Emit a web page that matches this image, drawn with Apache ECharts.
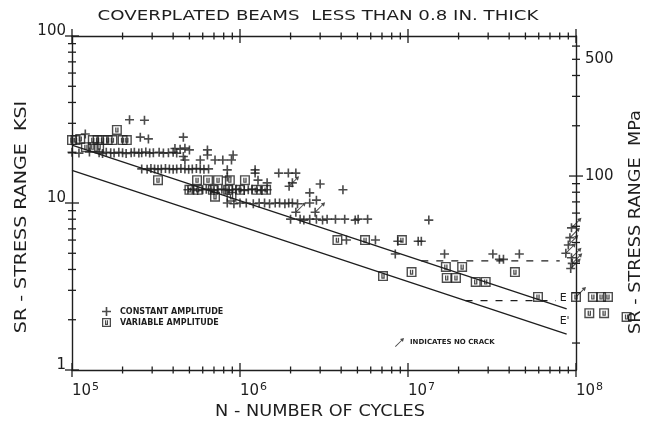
<!DOCTYPE html>
<html>
<head>
<meta charset="utf-8">
<script src="https://cdn.jsdelivr.net/npm/echarts/dist/echarts.min.js"></script>
<style>
  html, body { margin: 0; padding: 0; background: #fff; }
  #chart { width: 646px; height: 426px; }
</style>
</head>
<body>
<div id="chart"></div>
<script>
// ---- Test results: [cycles N, stress range Sr in ksi] ----
const constantAmplitude = [
  [2.2e5, 31.5], [2.7e5, 31.3], [1.2e5, 25.9], [2.55e5, 24.8], [2.85e5, 24.2], [4.6e5, 24.8],
  [1.0e5, 20.1], [1.1e5, 19.9], [1.27e5, 20.2], [1.45e5, 20.0], [1.52e5, 19.8], [1.6e5, 20.1],
  [1.7e5, 20.0], [1.78e5, 19.9], [1.9e5, 20.1], [2.0e5, 20.0], [2.1e5, 19.8], [2.25e5, 20.0],
  [2.35e5, 20.1], [2.5e5, 19.9], [2.6e5, 20.0], [2.75e5, 20.2], [2.9e5, 19.9], [3.05e5, 20.0],
  [3.3e5, 20.1], [3.5e5, 19.9], [3.75e5, 20.0], [4.0e5, 20.1], [4.2e5, 19.9],
  [4.1e5, 21.2], [4.4e5, 21.0], [4.7e5, 21.3], [5.0e5, 20.8], [4.6e5, 19.0], [4.7e5, 18.1],
  [5.8e5, 18.1], [6.4e5, 20.8], [6.4e5, 19.4], [7.1e5, 18.1], [7.9e5, 18.1], [9.1e5, 19.4], [8.9e5, 18.1],
  [2.6e5, 16.0], [2.8e5, 15.9], [2.95e5, 16.1], [3.1e5, 16.0], [3.25e5, 15.9], [3.4e5, 16.0],
  [3.6e5, 16.1], [3.8e5, 16.0], [4.0e5, 15.9], [4.2e5, 16.0], [4.45e5, 16.1], [4.7e5, 16.0],
  [4.95e5, 15.9], [5.2e5, 16.0], [5.5e5, 16.1], [5.8e5, 16.0], [6.1e5, 15.9], [6.5e5, 16.0],
  [8.4e5, 15.8], [8.4e5, 14.3], [1.23e6, 15.8], [1.23e6, 15.1], [1.7e6, 15.1], [1.94e6, 15.1], [2.15e6, 15.1],
  [1.28e6, 13.7], [1.45e6, 13.2], [2.05e6, 13.2], [3.0e6, 13.0], [4.1e6, 12.0], [2.6e6, 11.5], [2.85e6, 10.4],
  [4.9e5, 12.0], [5.2e5, 12.1], [5.6e5, 11.9], [6.0e5, 12.0], [6.3e5, 12.1], [6.7e5, 12.0],
  [7.0e5, 11.9], [7.4e5, 12.0], [7.8e5, 12.1], [8.2e5, 12.0], [8.6e5, 11.9], [9.0e5, 12.0],
  [9.5e5, 12.1], [1.0e6, 12.0], [1.06e6, 11.9], [1.12e6, 12.0], [1.18e6, 12.1], [1.26e6, 12.0],
  [1.35e6, 11.9], [1.45e6, 12.0],
  [8.4e5, 10.0], [9.2e5, 9.9], [1.0e6, 10.0], [1.09e6, 10.0], [1.2e6, 9.9], [1.3e6, 10.0],
  [1.4e6, 10.0], [1.5e6, 9.9], [1.62e6, 10.0], [1.72e6, 10.0], [1.85e6, 9.9], [1.95e6, 10.0],
  [2.05e6, 10.0], [2.2e6, 9.9], [2.6e6, 10.0],
  [2.0e6, 8.0], [2.28e6, 8.0], [2.4e6, 7.9], [2.6e6, 8.0], [2.85e6, 8.0], [3.1e6, 7.9],
  [3.3e6, 8.0], [3.7e6, 8.0], [4.2e6, 8.0], [4.85e6, 7.9], [5.05e6, 8.0], [5.75e6, 8.0],
  [4.3e6, 6.0], [6.4e6, 6.0], [8.7e6, 5.9], [1.15e7, 5.9], [1.2e7, 5.9], [8.4e6, 4.95],
  [1.33e7, 7.9], [1.65e7, 4.95], [3.2e7, 4.95], [3.5e7, 4.6], [3.7e7, 4.6], [4.6e7, 4.95]
];

// constant amplitude specimens without cracks (run-outs)
const constantRunouts = [
  [1.96e6, 12.6], [2.15e6, 8.8], [2.8e6, 8.8],
  [9.4e7, 7.1], [9.2e7, 6.2], [9.0e7, 5.6], [8.7e7, 5.0], [9.4e7, 4.7], [9.5e7, 4.35], [9.3e7, 4.05]
];

const variableAmplitude = [
  [1.85e5, 27.4],
  [1.0e5, 23.8], [1.05e5, 23.8], [1.12e5, 24.2], [1.33e5, 23.8], [1.42e5, 23.8], [1.52e5, 23.8],
  [1.63e5, 23.8], [1.74e5, 23.8], [2.0e5, 23.8], [2.12e5, 23.8],
  [1.21e5, 21.6], [1.33e5, 21.6], [1.45e5, 21.6],
  [3.25e5, 13.7], [5.55e5, 13.7], [6.45e5, 13.7], [7.4e5, 13.7], [8.7e5, 13.7], [1.07e6, 13.7],
  [5.0e5, 12.0], [5.6e5, 12.0], [6.9e5, 12.0], [8.5e5, 12.0], [1.0e6, 12.0], [1.25e6, 12.0], [1.43e6, 12.0],
  [7.1e5, 10.9], [8.9e5, 10.9],
  [3.8e6, 6.0], [5.55e6, 6.0], [9.2e6, 6.0],
  [7.1e6, 3.65], [1.05e7, 3.86], [1.68e7, 4.14], [2.1e7, 4.14], [1.7e7, 3.56], [1.93e7, 3.56],
  [2.53e7, 3.37], [2.9e7, 3.37], [4.33e7, 3.86], [5.94e7, 2.74],
  [1.26e8, 2.74], [1.41e8, 2.74], [1.55e8, 2.74], [1.2e8, 2.19], [1.47e8, 2.19], [2.0e8, 2.08]
];

const variableRunouts = [
  [1.0e8, 2.74]
];

// design S-N lines and constant amplitude fatigue limits
const categoryE = [[1e5, 22.2], [8.8e7, 2.32]];
const categoryEPrime = [[1e5, 15.7], [8.8e7, 1.64]];
const limitE = [[1.2e7, 4.5], [8.0e7, 4.5]];
const limitEPrime = [[2.2e7, 2.6], [7.6e7, 2.6]];

// ---- Axis ticks ----
const xMajorTicks = [1e5, 1e6, 1e7, 1e8];
const xMinorTicks = [2e5, 3e5, 4e5, 5e5, 6e5, 7e5, 8e5, 9e5,
                     2e6, 3e6, 4e6, 5e6, 6e6, 7e6, 8e6, 9e6,
                     2e7, 3e7, 4e7, 5e7, 6e7, 7e7, 8e7, 9e7];
const ksiMajorTicks = [1, 10, 100];
const ksiMinorTicks = [2, 3, 4, 5, 6, 7, 8, 9, 20, 30, 40, 50, 60, 70, 80, 90];
const mpaMajorTicks = [100];
const mpaMinorTicks = [10, 20, 30, 40, 50, 60, 70, 80, 90, 200, 300, 400, 500, 600];
const mpaTickLabels = [100, 500];

const KSI_TO_MPA = 6.894757;
const INK = '#1e1e1e';
const FONT = '"DejaVu Sans", "Liberation Sans", sans-serif';

const PLUS = 'path://M4.1,0H5.9V10H4.1ZM0,4.1H10V5.9H0Z';
const BOX = 'path://M0,0H10V10H0ZM1.4,1.4V8.6H8.6V1.4ZM3.3,2.6H4.6V6.5H5.4V2.6H6.7V7.7H3.3Z';
const ARROW = 'path://M0,9.3L6.9,2.4L5.6,1.2L10,0L8.8,4.4L7.6,3.1L0.7,10Z';

// tick records: [x, y, direction (0 = vertical mark, 1 = horizontal mark), half length]
const frameTicks = [];
xMajorTicks.forEach(v => { frameTicks.push([v, 1, 0, 7]); frameTicks.push([v, 100, 0, 7]); });
xMinorTicks.forEach(v => { frameTicks.push([v, 1, 0, 3.5]); frameTicks.push([v, 100, 0, 3.5]); });
ksiMajorTicks.forEach(v => frameTicks.push([1e5, v, 1, 7]));
ksiMinorTicks.forEach(v => frameTicks.push([1e5, v, 1, 4]));
const mpaTicks = mpaMajorTicks.map(v => [1e8, v, 1, 7])
  .concat(mpaMinorTicks.map(v => [1e8, v, 1, 4]));

function renderTick(params, api) {
  const p = api.coord([api.value(0), api.value(1)]);
  const dir = api.value(2), h = api.value(3);
  const shape = dir === 0
    ? { x1: p[0], y1: p[1] - h, x2: p[0], y2: p[1] + h }
    : { x1: p[0] - h, y1: p[1], x2: p[0] + h, y2: p[1] };
  return { type: 'line', shape: shape, style: { stroke: INK, lineWidth: 1.3 } };
}

const chart = echarts.init(document.getElementById('chart'), null, { renderer: 'canvas' });

const axisLine = { show: true, onZero: false, lineStyle: { color: INK, width: 1.4 } };

chart.setOption({
  animation: false,
  backgroundColor: '#ffffff',
  grid: { left: 72, right: 70, top: 36, bottom: 56 },
  xAxis: [
    {
      type: 'log', logBase: 10, min: 1e5, max: 1e8, position: 'bottom',
      axisLine: axisLine, axisTick: { show: false }, splitLine: { show: false },
      axisLabel: {
        align: 'left', margin: 12,
        formatter: v => '{b|10}{e|' + Math.round(Math.log10(v)) + '}',
        rich: {
          b: { fontSize: 15, fontFamily: FONT, color: INK },
          e: { fontSize: 11, fontFamily: FONT, color: INK, padding: [0, 0, 8, 1] }
        }
      }
    },
    {
      type: 'log', logBase: 10, min: 1e5, max: 1e8, position: 'top',
      axisLine: axisLine, axisTick: { show: false }, splitLine: { show: false },
      axisLabel: { show: false }
    }
  ],
  yAxis: [
    {
      type: 'log', logBase: 10, min: 1, max: 100, position: 'left',
      axisLine: axisLine, axisTick: { show: false }, splitLine: { show: false },
      axisLabel: { margin: 6, verticalAlign: 'bottom', lineHeight: 9, fontSize: 15, fontFamily: FONT, color: INK }
    },
    {
      type: 'log', logBase: 10, min: KSI_TO_MPA, max: 100 * KSI_TO_MPA, position: 'right',
      axisLine: axisLine, axisTick: { show: false }, splitLine: { show: false },
      axisLabel: { show: false }
    }
  ],
  legend: [
    {
      orient: 'vertical', left: 102, top: 307, padding: 0, itemGap: 2,
      itemWidth: 9, itemHeight: 9, selectedMode: false,
      data: [
        { name: 'CONSTANT AMPLITUDE', icon: PLUS },
        { name: 'VARIABLE AMPLITUDE', icon: BOX }
      ],
      textStyle: { fontSize: 8, fontWeight: 'bold', fontFamily: FONT, color: INK, padding: [0, 0, 0, 4] }
    },
    {
      left: 395, top: 338, padding: 0, itemWidth: 9, itemHeight: 9, selectedMode: false,
      data: [{ name: 'INDICATES NO CRACK', icon: ARROW }],
      textStyle: { fontSize: 7, fontWeight: 'bold', fontFamily: FONT, color: INK, padding: [0, 0, 0, 1] }
    }
  ],
  graphic: [
    {
      type: 'text', x: 318, y: 16, scaleX: 1.3,
      style: { text: 'COVERPLATED BEAMS  LESS THAN 0.8 IN. THICK', fontSize: 14, fontFamily: FONT,
               fill: INK, align: 'center', verticalAlign: 'middle' }
    },
    {
      type: 'text', x: 320, y: 412, scaleX: 1.18,
      style: { text: 'N - NUMBER OF CYCLES', fontSize: 15, fontFamily: FONT,
               fill: INK, align: 'center', verticalAlign: 'middle' }
    },
    {
      type: 'text', x: 22, y: 217, rotation: Math.PI / 2, scaleX: 1.27,
      style: { text: 'SR - STRESS RANGE  KSI', fontSize: 15, fontFamily: FONT,
               fill: INK, align: 'center', verticalAlign: 'middle' }
    },
    {
      type: 'text', x: 636, y: 222, rotation: Math.PI / 2, scaleX: 1.18,
      style: { text: 'SR - STRESS RANGE  MPa', fontSize: 15, fontFamily: FONT,
               fill: INK, align: 'center', verticalAlign: 'middle' }
    }
  ],
  series: [
    {
      type: 'custom', name: 'frame ticks', xAxisIndex: 0, yAxisIndex: 0, clip: false,
      silent: true, renderItem: renderTick, data: frameTicks, z: 5
    },
    {
      type: 'custom', name: 'MPa ticks', xAxisIndex: 0, yAxisIndex: 1, clip: false,
      silent: true, renderItem: renderTick, data: mpaTicks, z: 5
    },
    {
      type: 'custom', name: 'MPa labels', xAxisIndex: 0, yAxisIndex: 1, clip: false, silent: true,
      data: mpaTickLabels.map(v => [1e8, v]),
      renderItem: (params, api) => {
        const p = api.coord([api.value(0), api.value(1)]);
        return {
          type: 'text', x: p[0] + 9, y: p[1],
          style: { text: String(api.value(1)), fontSize: 15, fontFamily: FONT, fill: INK,
                   align: 'left', verticalAlign: 'middle' }
        };
      }
    },
    {
      type: 'line', name: 'E', data: categoryE, symbol: 'none', silent: true,
      lineStyle: { color: INK, width: 1.3 },
      endLabel: { show: true, formatter: 'E', offset: [-15, -11], fontSize: 11, fontFamily: FONT, color: INK }
    },
    {
      type: 'line', name: "E'", data: categoryEPrime, symbol: 'none', silent: true,
      lineStyle: { color: INK, width: 1.3 },
      endLabel: { show: true, formatter: "E'", offset: [-15, -13], fontSize: 11, fontFamily: FONT, color: INK }
    },
    {
      type: 'line', name: 'limit E', data: limitE, symbol: 'none', silent: true,
      lineStyle: { color: INK, width: 1.3, type: [7, 8] }
    },
    {
      type: 'line', name: "limit E'", data: limitEPrime, symbol: 'none', silent: true,
      lineStyle: { color: INK, width: 1.3, type: [7, 8] }
    },
    {
      type: 'scatter', name: 'CONSTANT AMPLITUDE', clip: false,
      data: constantAmplitude.concat(constantRunouts),
      symbol: PLUS, symbolSize: 9, itemStyle: { color: INK }
    },
    {
      type: 'scatter', name: 'VARIABLE AMPLITUDE', clip: false,
      data: variableAmplitude.concat(variableRunouts),
      symbol: BOX, symbolSize: 10, itemStyle: { color: INK }
    },
    {
      type: 'scatter', name: 'INDICATES NO CRACK', clip: false,
      data: constantRunouts.concat(variableRunouts),
      symbol: ARROW, symbolSize: 10, symbolOffset: [5, -5], itemStyle: { color: INK }
    }
  ]
});
</script>
</body>
</html>
